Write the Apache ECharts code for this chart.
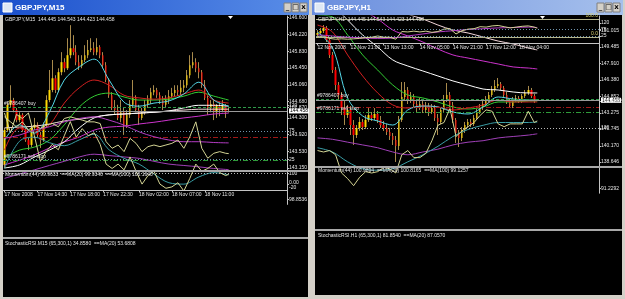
<!DOCTYPE html>
<html>
<head>
<meta charset="utf-8">
<script src="https://cdn.jsdelivr.net/npm/echarts@6/dist/echarts.min.js"></script>
<style>
  html, body { margin: 0; padding: 0; background: #d4d0c8; }
  #stage { position: relative; width: 625px; height: 299px; }
  .layer { position: absolute; left: 0; top: 0; width: 625px; height: 299px; }
</style>
</head>
<body>
<div id="stage"></div>
<script>
// ---------- GBPJPY M15 (left window) ----------
const lTimeLabels = ['17 Nov 2008', '17 Nov 14:30', '17 Nov 18:00', '17 Nov 22:30', '18 Nov 02:00', '18 Nov 07:00', '18 Nov 11:00']
const lTimeIdx = [0, 11, 22, 33, 45, 56, 67]
const lOpen = [143.22, 144.02, 144.60, 144.71, 144.48, 144.25, 144.37, 144.02, 143.79, 143.68,
  144.07, 144.14, 143.91, 143.79, 144.14, 144.71, 144.94, 145.21, 144.94, 145.35,
  145.58, 145.44, 145.74, 145.90, 145.81, 145.58, 145.49, 145.63, 145.74, 145.86,
  145.90, 145.81, 145.93, 145.74, 145.51, 145.17, 144.82, 144.53, 144.48, 144.30,
  144.43, 144.14, 144.37, 144.60, 144.76, 144.48, 144.30, 144.43, 144.60, 144.71,
  144.89, 144.94, 144.82, 144.71, 144.60, 144.71, 144.80, 144.87, 144.94, 144.89,
  144.99, 145.05, 145.28, 145.51, 145.58, 145.44, 145.35, 145.05, 144.76, 144.53,
  144.62, 144.43, 144.57, 144.48, 144.57, 144.445]
const lClose = [144.02, 144.60, 144.71, 144.48, 144.25, 144.37, 144.02, 143.79, 143.68, 144.07,
  144.14, 143.91, 143.79, 144.14, 144.71, 144.94, 145.21, 144.94, 145.35, 145.58,
  145.44, 145.74, 145.90, 145.81, 145.58, 145.49, 145.63, 145.74, 145.86, 145.90,
  145.81, 145.93, 145.74, 145.51, 145.17, 144.82, 144.53, 144.48, 144.30, 144.43,
  144.14, 144.37, 144.60, 144.76, 144.48, 144.30, 144.43, 144.60, 144.71, 144.89,
  144.94, 144.82, 144.71, 144.60, 144.71, 144.80, 144.87, 144.94, 144.89, 144.99,
  145.05, 145.28, 145.51, 145.58, 145.44, 145.35, 145.05, 144.76, 144.53, 144.62,
  144.43, 144.57, 144.48, 144.57, 144.43, 144.458]
const lHigh = [144.07, 144.66, 145.05, 144.76, 144.53, 144.43, 144.41, 144.07, 143.84, 144.14,
  144.30, 144.20, 143.98, 144.20, 144.82, 145.40, 145.63, 145.28, 145.44, 145.81,
  145.67, 146.13, 146.43, 146.20, 145.97, 145.74, 145.74, 145.97, 146.09, 146.13,
  146.04, 146.13, 145.97, 145.81, 145.58, 145.21, 144.89, 144.71, 144.60, 144.71,
  144.53, 144.48, 144.71, 145.17, 144.82, 144.60, 144.53, 144.71, 144.82, 144.99,
  145.05, 144.99, 144.89, 144.80, 144.82, 144.94, 144.99, 145.05, 145.05, 145.17,
  145.17, 145.40, 145.74, 145.81, 145.67, 145.58, 145.40, 145.17, 144.82, 144.71,
  144.71, 144.62, 144.66, 144.71, 144.62, 144.543]
const lLow = [143.15, 143.98, 144.53, 144.43, 144.20, 144.20, 143.98, 143.75, 143.56, 143.63,
  144.02, 143.86, 143.61, 143.75, 144.09, 144.66, 144.89, 144.87, 144.89, 145.28,
  145.35, 145.40, 145.67, 145.74, 145.51, 145.40, 145.44, 145.58, 145.67, 145.81,
  145.74, 145.74, 145.67, 145.44, 145.12, 144.76, 144.48, 144.37, 144.25, 144.20,
  143.91, 144.07, 144.30, 144.53, 144.43, 144.14, 144.25, 144.37, 144.53, 144.62,
  144.82, 144.76, 144.62, 144.48, 144.53, 144.62, 144.76, 144.80, 144.80, 144.82,
  144.89, 144.99, 145.21, 145.44, 145.35, 145.21, 144.99, 144.71, 144.37, 144.43,
  144.25, 144.30, 144.34, 144.43, 144.30, 144.423]

// moving averages, read every 5th bar
const lMaIdx = [0, 5, 10, 15, 20, 25, 30, 35, 40, 45, 50, 55, 60, 65, 70, 75]
const lMaCyan = [143.79, 144.14, 143.95, 144.43, 145.17, 145.47, 145.65, 145.17, 144.66, 144.57, 144.64, 144.69, 144.85, 145.12, 144.71, 144.57]
const lMaRed = [143.56, 144.07, 143.98, 144.14, 144.64, 144.99, 145.17, 145.05, 144.82, 144.76, 144.73, 144.76, 144.85, 144.94, 144.71, 144.64]
const lMaGreen = [143.38, 143.56, 143.63, 143.79, 144.14, 144.55, 144.80, 144.87, 144.78, 144.71, 144.71, 144.73, 144.80, 144.89, 144.80, 144.71]
const lMaWhite = [143.15, 143.22, 143.40, 143.56, 143.75, 144.07, 144.30, 144.37, 144.39, 144.41, 144.43, 144.46, 144.53, 144.59, 144.59, 144.57]
const lMaPink = [144.07, 144.09, 144.11, 144.16, 144.23, 144.27, 144.32, 144.37, 144.39, 144.41, 144.43, 144.46, 144.48, 144.50, 144.50, 144.50]
const lMaViolet = [143.22, 143.33, 143.45, 143.61, 143.75, 143.86, 144.02, 144.09, 144.11, 144.16, 144.20, 144.25, 144.30, 144.34, 144.39, 144.41]

// oscillators, read every 2nd bar
const lOscIdx = [0, 2, 4, 6, 8, 10, 12, 14, 16, 18, 20, 22, 24, 26, 28, 30, 32, 34, 36, 38,
  40, 42, 44, 46, 48, 50, 52, 54, 56, 58, 60, 62, 64, 66, 68, 70, 72, 74, 75]
const lMom = [102.62, 101.76, 102.56, 102.38, 102.62, 101.63, 100.52, 100.95, 101.26, 101.02,
  101.63, 102.25, 101.57, 101.94, 101.63, 101.76, 101.26, 100.40, 100.21, 100.40,
  100.15, 100.71, 100.09, 99.53, 99.90, 100.09, 99.53, 99.35, 99.41, 99.59,
  99.23, 99.78, 100.40, 100.09, 100.21, 100.40, 100.03, 99.90, 99.96]
const lMomMa20 = [100.21, 101.39, 101.57, 101.33, 101.20, 101.45, 101.70, 101.02, 100.65, 100.40, 99.97, 99.59, 99.53, 99.84, 100.03, 99.93]
const lMomMa100 = [99.78, 99.97, 100.15, 100.34, 100.52, 100.71, 100.83, 100.77, 100.71, 100.65, 100.52, 100.40, 100.34, 100.28, 100.21, 100.16]
const lSto = [99.6, 90.8, 82.1, 90.8, 76.3, 85.0, 79.2, 85.0, 87.9, 82.1,
  96.7, 99.6, 96.7, 93.8, 90.8, 90.8, 87.9, 55.8, 44.2, 50.0,
  38.3, 61.7, 52.9, 38.3, 47.1, 50.0, 47.1, 50.0, 52.9, 58.8,
  44.2, 64.6, 90.8, 44.2, 26.7, 35.4, 38.3, 35.4, 34.86]
const lStoMa20 = [61.7, 67.5, 76.3, 82.1, 90.8, 96.7, 99.6, 93.8, 85.0, 73.3, 64.6, 58.8, 55.8, 55.8, 54.4, 53.68]

const lPriceTicks = [143.150, 143.530, 143.920, 144.300, 144.680, 145.060, 145.450, 145.830, 146.220, 146.600]
const lMomTicks = [98.8536, 100, 102.870]
const lMomTickText = ['98.8536', '100', '102.870']

// ---------- GBPJPY H1 (right window) ----------
const rTimeLabels = ['12 Nov 2008', '12 Nov 21:00', '13 Nov 13:00', '14 Nov 05:00', '14 Nov 21:00', '17 Nov 12:00', '18 Nov 04:00']
const rTimeIdx = [0, 11, 22, 34, 45, 56, 67]
const rOpen = [150.61, 150.80, 150.99, 151.27, 150.14, 148.73, 147.31, 145.90, 144.96, 143.73,
  143.07, 143.55, 142.13, 141.19, 141.85, 142.42, 141.94, 142.60, 143.07, 142.79,
  143.17, 142.60, 142.13, 141.85, 141.47, 141.10, 140.72, 140.15, 142.60, 144.77,
  145.43, 144.49, 144.77, 144.11, 143.73, 144.11, 143.55, 143.92, 143.36, 143.73,
  142.79, 142.42, 143.55, 144.49, 144.96, 144.02, 142.60, 141.38, 140.91, 141.66,
  142.13, 142.42, 142.23, 142.79, 143.36, 143.73, 144.11, 144.49, 144.96, 145.43,
  145.81, 145.99, 145.62, 144.96, 144.30, 143.92, 144.49, 144.68, 144.39, 144.86,
  145.15, 145.43, 144.86, 144.445]
const rClose = [150.80, 150.99, 151.27, 150.14, 148.73, 147.31, 145.90, 144.96, 143.73, 143.07,
  143.55, 142.13, 141.19, 141.85, 142.42, 141.94, 142.60, 143.07, 142.79, 143.17,
  142.60, 142.13, 141.85, 141.47, 141.10, 140.72, 140.15, 142.60, 144.77, 145.43,
  144.49, 144.77, 144.11, 143.73, 144.11, 143.55, 143.92, 143.36, 143.73, 142.79,
  142.42, 143.55, 144.49, 144.96, 144.02, 142.60, 141.38, 140.91, 141.66, 142.13,
  142.42, 142.23, 142.79, 143.36, 143.73, 144.11, 144.49, 144.96, 145.43, 145.81,
  145.99, 145.62, 144.96, 144.30, 143.92, 144.49, 144.68, 144.39, 144.86, 145.15,
  145.43, 144.86, 144.39, 144.458]
const rHigh = [151.08, 151.27, 151.55, 151.46, 150.33, 149.01, 147.60, 146.18, 145.24, 144.49,
  144.02, 143.92, 142.60, 142.13, 142.89, 142.70, 143.07, 143.73, 143.36, 143.73,
  143.45, 142.98, 142.51, 142.23, 141.85, 141.38, 141.10, 142.98, 146.18, 146.18,
  145.71, 145.24, 145.05, 144.49, 144.68, 144.39, 144.30, 144.21, 144.11, 144.02,
  143.17, 143.83, 144.96, 146.09, 145.24, 144.30, 142.79, 141.66, 141.94, 142.42,
  142.70, 142.70, 143.07, 143.64, 144.11, 144.49, 144.86, 145.24, 145.81, 146.37,
  146.56, 146.18, 145.81, 145.24, 144.58, 144.77, 144.96, 144.86, 145.05, 145.43,
  145.81, 145.62, 145.05, 144.543]
const rLow = [150.33, 150.61, 150.80, 149.95, 148.44, 147.03, 145.43, 144.49, 143.07, 142.13,
  142.79, 141.19, 140.25, 140.91, 141.57, 141.66, 141.76, 142.42, 142.51, 142.60,
  142.32, 141.85, 141.57, 141.19, 140.72, 140.25, 138.65, 139.78, 142.42, 144.49,
  144.11, 144.21, 143.73, 143.36, 143.55, 143.26, 143.26, 142.98, 143.17, 142.51,
  141.19, 142.23, 143.36, 144.30, 143.73, 142.32, 140.44, 140.06, 140.62, 141.38,
  141.85, 141.94, 142.04, 142.60, 143.17, 143.55, 143.92, 144.30, 144.77, 145.24,
  145.62, 145.43, 144.77, 144.11, 143.73, 143.73, 144.30, 144.21, 144.21, 144.68,
  144.96, 144.68, 144.21, 144.423]

const rMaIdx = [0, 5, 10, 15, 20, 25, 30, 35, 40, 45, 50, 55, 60, 65, 70, 73]
const rMaCyan = [150.89, 149.39, 144.68, 142.98, 142.51, 142.13, 143.55, 143.92, 143.83, 143.36, 143.17, 143.83, 144.77, 144.58, 144.49, 144.49]
const rMaRed = [151.55, 150.89, 148.73, 146.75, 145.15, 144.02, 143.73, 143.92, 143.83, 143.55, 143.73, 144.02, 144.49, 144.30, 144.30, 144.30]
const rMaGreen = [152.49, 152.31, 150.61, 148.73, 147.31, 145.90, 144.96, 144.68, 144.30, 143.83, 143.64, 143.83, 144.30, 144.30, 144.39, 144.39]
const rMaWhite = [154.85, 153.44, 152.02, 150.61, 149.48, 148.26, 147.69, 147.22, 146.75, 146.28, 145.90, 145.52, 145.43, 145.24, 145.15, 145.15]
const rMaPink = [157.68, 156.73, 155.98, 155.04, 154.38, 153.44, 152.59, 152.12, 151.55, 151.08, 150.80, 150.42, 150.04, 149.76, 149.39, 149.20]
const rMaViolet = [156.26, 155.04, 154.10, 152.97, 152.12, 151.08, 150.52, 149.95, 149.29, 148.73, 148.44, 148.16, 147.88, 147.60, 147.50, 147.41]

const rOscIdx = [0, 2, 4, 6, 8, 10, 12, 14, 16, 18, 20, 22, 24, 26, 28, 30, 32, 34, 36, 38,
  40, 42, 44, 46, 48, 50, 52, 54, 56, 58, 60, 62, 64, 66, 68, 70, 72, 73]
const rMom = [96.71, 96.50, 96.71, 96.10, 93.46, 92.65, 91.63, 92.85, 93.66, 93.46,
  93.66, 94.27, 94.07, 93.46, 96.10, 96.71, 95.69, 95.69, 96.30, 98.13,
  100.36, 100.76, 102.79, 98.74, 99.55, 100.16, 100.76, 101.78, 102.59, 102.39,
  100.56, 100.16, 100.56, 100.56, 100.56, 102.39, 100.76, 100.99]
const rMomMa20 = [97.11, 96.50, 95.08, 94.07, 93.87, 94.07, 95.08, 96.10, 97.32, 98.74, 99.75, 100.36, 100.76, 100.76, 100.76, 100.82]
const rMomMa100 = [98.53, 98.33, 97.92, 97.52, 97.11, 96.50, 96.10, 96.50, 96.91, 97.52, 97.92, 98.13, 98.53, 98.74, 98.94, 99.13]
const rSto = [21.7, 21.7, 6.8, 0.9, 3.8, 0.9, 3.8, 6.8, 12.8, 15.7,
  24.7, 15.7, 15.7, 0.9, 57.4, 54.5, 60.4, 54.5, 60.4, 51.5,
  57.4, 75.3, 78.3, 39.6, 63.4, 75.3, 78.3, 93.2, 90.2, 99.1,
  102.1, 93.2, 84.3, 90.2, 96.2, 99.1, 90.2, 81.85]
const rStoMa20 = [33.6, 24.7, 15.7, 9.8, 6.8, 9.8, 24.7, 39.6, 54.5, 63.4, 72.3, 78.3, 84.3, 87.2, 90.2, 87.06]

const rPriceTicks = [138.646, 140.170, 141.745, 143.275, 144.852, 146.380, 147.910, 149.485, 151.015]
const rMomTicks = [91.2292, 100, 103.8082]
const rMomTickText = ['91.2292', '100', '103.8082']
const rFibLevels = [152.12, 150.42]
const rFibText = ['100.0', '0.0']

// shared levels
const stoTicks = [-20, 25, 75, 120]
const lastPrice = 144.458
const buyLevel = 144.55
const stopLevel = 143.85
const sellStopLevel = 143.33

const TXT = '#e4e4e4'
const AXIS = '#c4c4c4'
const FONT = 'Liberation Sans'

function sparse(idx, vals, n) {
  const a = new Array(n).fill(null)
  idx.forEach((k, j) => { a[k] = vals[j] })
  return a
}

// one ECharts instance per sub-window, stacked as transparent layers
function panel(w, k) {
  const n = w.nCats
  const cats = new Array(n).fill('')
  w.timeIdx.forEach((t, j) => { cats[t] = w.timeLabels[j] })
  const box = [w.price, w.mom, w.sto][k]
  const yCfg = [
    [w.priceMin, w.priceMax, w.priceTicks, v => v.toFixed(3)],
    [w.momMin, w.momMax, w.momTicks, v => { const j = w.momTicks.indexOf(v); return j >= 0 ? w.momTickText[j] : '' }],
    [-30, 130, stoTicks, v => (v === -20 ? '0.00\n-20' : String(v))]
  ][k]
  const yAxis = {
    type: 'value', position: 'right', min: yCfg[0], max: yCfg[1],
    axisLine: { show: true, onZero: false, lineStyle: { color: AXIS } },
    axisTick: { show: true, length: 2, customValues: yCfg[2], lineStyle: { color: AXIS } },
    axisLabel: { customValues: yCfg[2], formatter: yCfg[3], margin: 2, fontSize: 5, lineHeight: 5, fontFamily: FONT, color: TXT },
    splitLine: { show: false }
  }
  const xAxis = {
    type: 'category', data: cats, boundaryGap: true,
    axisLine: { show: k === 2, onZero: false, lineStyle: { color: AXIS } },
    axisTick: { show: k === 2, alignWithLabel: true, length: 2, interval: (i) => w.timeIdx.indexOf(i) >= 0, lineStyle: { color: AXIS } },
    axisLabel: { show: k === 2, interval: 0, align: 'left', margin: 2, fontSize: 5, fontFamily: FONT, color: TXT },
    splitLine: { show: false }
  }
  const line = (idx, vals, color, smooth) => ({
    type: 'line', data: sparse(idx, vals, n), connectNulls: true, showSymbol: false,
    smooth: smooth ? 0.35 : false, z: 4, silent: true, lineStyle: { color, width: 1 }
  })
  const dotted = (levels, color) => ({
    symbol: ['none', 'none'], silent: true, animation: false, label: { show: false },
    data: levels.map(v => ({ yAxis: v, lineStyle: { color, type: [1, 2], width: 1 } }))
  })

  let series
  if (k === 0) {
    const wick = w.open.map((o, i) => [o, w.close[i], w.low[i], w.high[i]])
    const body = w.open.map((o, i) => [o, w.close[i], Math.min(o, w.close[i]), Math.max(o, w.close[i])])
    const tan = '#a88a4c'
    const lbl = (txt) => ({ show: true, position: 'insideStartTop', formatter: txt, fontSize: 5, fontFamily: FONT, color: TXT, distance: 1 })
    const tag = (txt, bg, fg, dy) => ({ show: true, position: 'end', formatter: txt, fontSize: 5, fontFamily: FONT, color: fg, backgroundColor: bg, padding: [0, 1], distance: 2, offset: [0, dy] })
    const priceLines = [
      { yAxis: buyLevel, lineStyle: { color: '#2f9a4a', type: [3, 2], width: 1 }, label: lbl(w.buyText) },
      { yAxis: stopLevel, lineStyle: { color: '#a01818', type: [5, 2, 1, 2], width: 1 }, label: { show: false } },
      { yAxis: sellStopLevel, lineStyle: { color: '#2f9a3a', type: [5, 2, 1, 2], width: 1 }, label: lbl(w.sellText) },
      { yAxis: lastPrice, lineStyle: { color: '#9a9a9a', type: 'solid', width: 1 }, label: tag(lastPrice.toFixed(3), '#ffffff', '#000000', 0) }
    ]
    if (w.buyTag) {
      priceLines.push({ yAxis: buyLevel, lineStyle: { opacity: 0 }, label: tag(w.buyTag, '#b040c0', '#ffffff', -3) })
    }
    w.fibLevels.forEach((lv, j) => {
      priceLines.push({ yAxis: lv, lineStyle: { color: '#b4b48c', type: 'solid', width: 1 },
        label: { show: true, position: 'insideEndTop', formatter: w.fibText[j], fontSize: 5, fontFamily: FONT, color: '#d8d070', distance: 1 } })
    })
    series = [
      { type: 'candlestick', data: wick, barWidth: 1, z: 2, silent: true,
        itemStyle: { color: tan, color0: tan, borderColor: tan, borderColor0: tan, borderWidth: 1 } },
      { type: 'candlestick', data: body, barWidth: 2, z: 3, silent: true,
        itemStyle: { color: '#ffd800', color0: '#ff0000', borderColor: '#ffd800', borderColor0: '#ff0000', borderWidth: 0 },
        markLine: { symbol: ['none', 'none'], silent: true, animation: false, data: priceLines } },
      line(w.maIdx, w.maViolet, '#cc33cc', true),
      line(w.maIdx, w.maPink, '#f4d8dc', true),
      line(w.maIdx, w.maWhite, '#ffffff', true),
      line(w.maIdx, w.maGreen, '#33cc33', true),
      line(w.maIdx, w.maRed, '#d42020', true),
      line(w.maIdx, w.maCyan, '#55d8e8', true)
    ]
  } else if (k === 1) {
    series = [
      Object.assign(line(w.maIdx, w.momMa100, '#a040b8', true), { markLine: dotted([100], '#b8b8b8') }),
      line(w.maIdx, w.momMa20, '#3a9ea6', true),
      line(w.oscIdx, w.mom, '#d4d494', false)
    ]
  } else {
    series = [
      Object.assign(line(w.maIdx, w.stoMa20, '#b43cc4', true), { markLine: dotted([75, 25], '#6f93ac') }),
      line(w.oscIdx, w.sto, '#d4d494', false)
    ]
  }
  return {
    grid: { left: w.left, top: box[0], width: w.width, height: box[1], containLabel: false },
    xAxis, yAxis, series
  }
}

const leftWin = {
  nCats: 95, left: 3, width: 284, price: [16, 154], mom: [172, 65], sto: [240, 48],
  timeLabels: lTimeLabels, timeIdx: lTimeIdx,
  open: lOpen, high: lHigh, low: lLow, close: lClose,
  priceMin: 143.104, priceMax: 146.64, priceTicks: lPriceTicks,
  momMin: 98.65, momMax: 103.07, momTicks: lMomTicks, momTickText: lMomTickText,
  maIdx: lMaIdx, maCyan: lMaCyan, maRed: lMaRed, maGreen: lMaGreen, maWhite: lMaWhite, maPink: lMaPink, maViolet: lMaViolet,
  oscIdx: lOscIdx, mom: lMom, momMa20: lMomMa20, momMa100: lMomMa100, sto: lSto, stoMa20: lStoMa20,
  buyText: '#9786407 buy', sellText: '#9786171 sell stop', buyTag: '144.550',
  fibLevels: [], fibText: []
}
const rightWin = {
  nCats: 94, left: 316, width: 283, price: [16, 150], mom: [168, 61], sto: [232, 48],
  timeLabels: rTimeLabels, timeIdx: rTimeIdx,
  open: rOpen, high: rHigh, low: rLow, close: rClose,
  priceMin: 138.27, priceMax: 152.4, priceTicks: rPriceTicks,
  momMin: 90.54, momMax: 104.49, momTicks: rMomTicks, momTickText: rMomTickText,
  maIdx: rMaIdx, maCyan: rMaCyan, maRed: rMaRed, maGreen: rMaGreen, maWhite: rMaWhite, maPink: rMaPink, maViolet: rMaViolet,
  oscIdx: rOscIdx, mom: rMom, momMa20: rMomMa20, momMa100: rMomMa100, sto: rSto, stoMa20: rStoMa20,
  buyText: '#9786407 buy', sellText: '#9786171 sell stop', buyTag: null,
  fibLevels: rFibLevels, fibText: rFibText
}

// window chrome, separators and caption texts
function rect(x, y, w, h, fill, z, stroke) {
  return { type: 'rect', z: z || 0, shape: { x, y, width: w, height: h }, style: { fill, stroke: stroke || null, lineWidth: 1 } }
}
function grad(c1, c2) {
  return new echarts.graphic.LinearGradient(0, 0, 1, 0, [{ offset: 0, color: c1 }, { offset: 1, color: c2 }])
}
function text(x, y, s, font, fill) {
  return { type: 'text', x, y, z: 50, style: { text: s, font, fill: fill || TXT, textVerticalAlign: 'middle', verticalAlign: 'middle' } }
}
function buttons(x0) {
  const out = []
  ;['_', '\u25a1', 'x'].forEach((g, i) => {
    const x = x0 + i * 8
    out.push(rect(x, 3, 7, 9, '#d4d0c8', 20, '#808080'))
    out.push({ type: 'text', x: x + 3.5, y: 7.5, z: 30, style: { text: g, font: 'bold 7px "DejaVu Sans"', fill: '#000', align: 'center', verticalAlign: 'middle', textAlign: 'center', textVerticalAlign: 'middle' } })
  })
  return out
}
const small = '5px "Liberation Sans"'
const backGraphics = [
  rect(0, 0, 309, 15, grad('#1b50cc', '#5a8ee8')),
  rect(3, 15, 305, 282, '#000000'),
  rect(312, 0, 311, 15, grad('#6a8ede', '#a6c0ec')),
  rect(315, 15, 307, 280, '#000000')
]
const frontGraphics = [
  rect(3, 170, 305, 2, '#a8a8a8', 40),
  rect(3, 237, 305, 2, '#a8a8a8', 40),
  rect(3, 3, 9, 9, '#dfe8f4', 20, '#ffffff'),
  text(15, 7.5, 'GBPJPY,M15', 'bold 8px "Liberation Sans"', '#ffffff'),
  ...buttons(284),
  { type: 'polygon', z: 50, shape: { points: [[228, 16], [233, 16], [230.5, 19]] }, style: { fill: '#ffffff' } },
  text(5, 20, 'GBPJPY,M15  144.445 144.543 144.423 144.458', small),
  text(5, 175, 'Momentum(44) 99.9633  ==MA(20) 99.9346  ==MA(100) 100.1640', small),
  text(5, 243.5, 'StochasticRSI.M15 (65,300,1) 34.8580  ==MA(20) 53.6808', small),
  rect(315, 166, 307, 2, '#a8a8a8', 40),
  rect(315, 229, 307, 2, '#a8a8a8', 40),
  rect(315, 3, 9, 9, '#dfe8f4', 20, '#ffffff'),
  text(327, 7.5, 'GBPJPY,H1', 'bold 8px "Liberation Sans"', '#ffffff'),
  ...buttons(597),
  { type: 'polygon', z: 50, shape: { points: [[540, 16], [545, 16], [542.5, 19]] }, style: { fill: '#ffffff' } },
  text(318, 20, 'GBPJPY,H1  144.445 144.543 144.423 144.458', small),
  text(318, 171, 'Momentum(44) 100.9894  ==MA(20) 100.8165  ==MA(100) 99.1257', small),
  text(318, 235.5, 'StochasticRSI.H1 (65,300,1) 81.8540  ==MA(20) 87.0570', small)
]

const stage = document.getElementById('stage')
function layer(option) {
  const el = document.createElement('div')
  el.className = 'layer'
  stage.appendChild(el)
  const chart = echarts.init(el, null, { renderer: 'canvas' })
  chart.setOption(Object.assign({ animation: false, backgroundColor: 'transparent' }, option))
  return chart
}

layer({ graphic: { elements: backGraphics } })
;[leftWin, rightWin].forEach(w => {
  [0, 1, 2].forEach(k => layer(panel(w, k)))
})
layer({ graphic: { elements: frontGraphics } })
</script>
</body>
</html>
